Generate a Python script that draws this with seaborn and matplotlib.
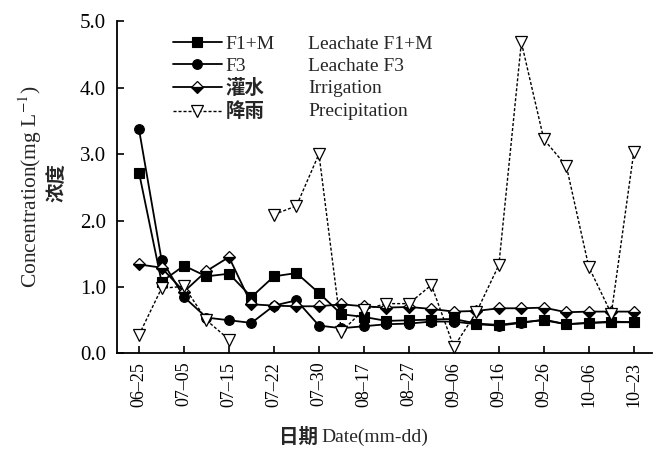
import numpy as np
import matplotlib
matplotlib.use("Agg")
import matplotlib.pyplot as plt
import seaborn as sns

# ---- data ----
tick_labels = ["06–25", "07–05", "07–15", "07–22", "07–30", "08–17",
               "08–27", "09–06", "09–16", "09–26", "10–06", "10–23"]
x_idx = list(range(23))
f1m = [2.72, 1.08, 1.32, 1.16, 1.20, 0.85, 1.16, 1.21, 0.91, 0.59, 0.55, 0.49,
       0.50, 0.51, 0.52, 0.45, 0.43, 0.47, 0.50, 0.44, 0.46, 0.47, 0.47]
f3 = [3.37, 1.41, 0.85, 0.54, 0.50, 0.46, 0.72, 0.80, 0.42, 0.38, 0.41, 0.44,
      0.45, 0.48, 0.48, 0.44, 0.42, 0.46, 0.51, 0.44, 0.46, 0.48, 0.47]
irrigation = [1.34, 1.29, 0.93, 1.24, 1.45, 0.74, 0.72, 0.71, 0.71, 0.74, 0.71, 0.69,
              0.70, 0.67, 0.63, 0.64, 0.68, 0.68, 0.69, 0.62, 0.63, 0.63, 0.63]
precip = [0.28, 0.98, 1.01, 0.50, 0.21, np.nan, 2.09, 2.22, 3.00, 0.33, 0.66, 0.75,
          0.75, 1.03, 0.10, 0.62, 1.33, 4.68, 3.22, 2.82, 1.30, 0.60, 3.03]
cn_labels = ["F1+M", "F3", "灌水", "降雨"]
en_labels = ["Leachate F1+M", "Leachate F3", "Irrigation", "Precipitation"]
y_ticks = [0, 1, 2, 3, 4, 5]
y_ticklabels = ["0.0", "1.0", "2.0", "3.0", "4.0", "5.0"]

sns.set_style("ticks")
plt.rcParams["font.family"] = ["Liberation Serif", "Noto Sans CJK SC"]
plt.rcParams["mathtext.fontset"] = "stix"

fig = plt.figure(figsize=(6.55, 4.49), dpi=100)
ax = fig.add_axes([0.1786, 0.2127, 0.8165, 0.7405])

common = dict(ax=ax, color="black", estimator=None, sort=False)
sns.lineplot(x=x_idx, y=f1m, marker="s", markersize=6.5, markerfacecolor="black",
             markeredgecolor="black", markeredgewidth=0.8, linewidth=1.3,
             label=cn_labels[0], **common)
sns.lineplot(x=x_idx, y=f3, marker="o", markersize=7, markerfacecolor="black",
             markeredgecolor="black", markeredgewidth=0.8, linewidth=1.3,
             label=cn_labels[1], **common)
sns.lineplot(x=x_idx, y=irrigation, marker="D", markersize=6.5, fillstyle="bottom",
             markerfacecolor="black", markerfacecoloralt="white",
             markeredgecolor="black", markeredgewidth=0.9, linewidth=1.3,
             label=cn_labels[2], **common)

# precipitation: split into contiguous segments at missing values
p = np.array(precip, dtype=float)
xs = np.array(x_idx)
valid = ~np.isnan(p)
segments = []
start = None
for i, v in enumerate(valid):
    if v and start is None:
        start = i
    if (not v or i == len(valid) - 1) and start is not None:
        end = i + 1 if v else i
        segments.append((start, end))
        start = None
for k, (a, b) in enumerate(segments):
    sns.lineplot(x=xs[a:b], y=p[a:b], marker="v", markersize=8.5,
                 markerfacecolor="white", markeredgecolor="black",
                 markeredgewidth=0.9, linewidth=1.0, linestyle=(0, (2.2, 1.4)),
                 label=cn_labels[3] if k == 0 else None, **common)

ax.set_xlim(-0.98, 22.8)
ax.set_ylim(0, 5.0)
ax.set_xticks(x_idx[::2])
ax.set_xticklabels(tick_labels, rotation=90)
ax.set_yticks(y_ticks)
ax.set_yticklabels(y_ticklabels)
ax.tick_params(direction="in", length=5, width=1.2, colors="black")
ax.tick_params(axis="x", labelsize=13, pad=6)
ax.tick_params(axis="y", labelsize=15, pad=8)
for s in ["top", "right"]:
    ax.spines[s].set_visible(False)
for s in ["left", "bottom"]:
    ax.spines[s].set_linewidth(1.3)
    ax.spines[s].set_color("black")

# axis titles
ax.set_xlabel("")
ax.set_ylabel("")
ax.text(0.376, -0.251, "日期", transform=ax.transAxes, ha="right", va="center",
        fontsize=14, fontweight="bold", family="Noto Sans CJK SC")
ax.text(0.383, -0.251, "Date(mm-dd)", transform=ax.transAxes, ha="left",
        va="center", fontsize=14)
ax.text(-0.1626, 0.5, "Concentration(mg L$^{-1}$)", transform=ax.transAxes,
        rotation=90, ha="center", va="center", fontsize=15.5)
ax.text(-0.112, 0.515, "浓度", transform=ax.transAxes, rotation=90, ha="center",
        va="center", fontsize=14, fontweight="bold", family="Noto Sans CJK SC")

handles, labels = ax.get_legend_handles_labels()
if ax.get_legend() is not None:
    ax.get_legend().remove()
leg1 = ax.legend(handles[:4], labels[:4], loc="upper left",
                 bbox_to_anchor=(0.105, 0.957), frameon=False, fontsize=14,
                 handlelength=2.5, handletextpad=0.2, labelspacing=0.22,
                 borderaxespad=0, borderpad=0)
for t in leg1.get_texts()[2:]:
    t.set_fontweight("bold")
    t.set_family("Noto Sans CJK SC")
# English column, aligned row by row with the legend labels
for t, lab in zip(leg1.get_texts(), en_labels):
    ax.annotate(lab, xy=(0.357, 0.5), xycoords=(ax.transAxes, t), ha="left",
                va="center", fontsize=14, zorder=6, annotation_clip=False)

fig.savefig("out.png", dpi=100)
